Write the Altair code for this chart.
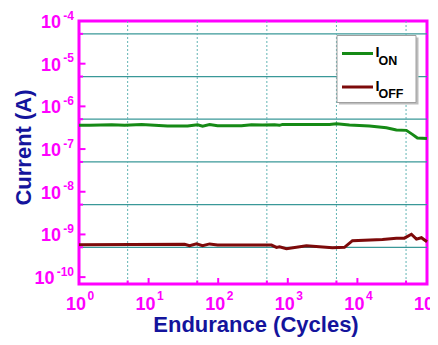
import altair as alt
import pandas as pd

# ---------------- data ----------------
cycles_on = [1, 1.42, 2.95, 4.53, 7.94, 12.2, 18.7, 36.3, 50.6, 59.7, 75.2, 98, 216, 301,
             433, 644, 760, 839, 3970, 5000, 7690, 14900, 26100, 36300, 50600, 61700, 72800, 100000]
i_on = [3.6e-7, 3.6e-7, 3.72e-7, 3.6e-7, 3.75e-7, 3.6e-7, 3.45e-7, 3.45e-7, 3.72e-7, 3.45e-7,
        3.75e-7, 3.5e-7, 3.5e-7, 3.72e-7, 3.64e-7, 3.72e-7, 3.6e-7, 3.78e-7, 3.78e-7, 3.9e-7,
        3.64e-7, 3.45e-7, 3.17e-7, 2.79e-7, 2.74e-7, 2.21e-7, 1.82e-7, 1.76e-7]

cycles_off = [1, 32.9, 38.8, 48.9, 59.6, 75.2, 98, 282, 583, 688, 760, 958, 1850, 4380, 6520,
              8490, 22900, 36300, 47300, 59700, 70500, 83200, 100000]
i_off = [5.75e-10, 5.85e-10, 5.45e-10, 6.00e-10, 5.45e-10, 6.00e-10, 5.69e-10, 5.69e-10, 5.62e-10,
         4.98e-10, 5.16e-10, 4.65e-10, 5.45e-10, 4.90e-10, 4.98e-10, 7.13e-10, 7.64e-10, 8.19e-10,
         8.19e-10, 1.01e-9, 7.76e-10, 8.36e-10, 6.75e-10]

series_keys = ["ON", "OFF"]
series_colors = ["#168a16", "#7d0a0a"]

x_major_exp = [0, 1, 2, 3, 4, 5]
x_minor = [5, 50, 500, 5000, 50000]
y_major_exp = [-4, -5, -6, -7, -8, -9, -10]
y_minor = [5e-5, 5e-6, 5e-7, 5e-8, 5e-9, 5e-10]

x_title = "Endurance (Cycles)"
y_title = "Current (A)"

# ---------------- styling ----------------
W, H = 348, 263
MAG = "#FF00FF"
TITLE_C = "#14149C"
FONT = "Liberation Sans"

xs = alt.Scale(type="log", domain=[1, 1e5], nice=False)
ys = alt.Scale(type="log", domain=[6.9e-11, 1e-4], nice=False)

df = pd.concat([
    pd.DataFrame({"cycles": cycles_on, "current": i_on, "series": "ON"}),
    pd.DataFrame({"cycles": cycles_off, "current": i_off, "series": "OFF"}),
])
color = alt.Color("series:N", scale=alt.Scale(domain=series_keys, range=series_colors), legend=None)

xmaj = pd.DataFrame({"exp": [str(e) for e in x_major_exp], "val": [10.0 ** e for e in x_major_exp]})
ymaj = pd.DataFrame({"exp": [str(e) for e in y_major_exp], "val": [10.0 ** e for e in y_major_exp]})
xmin = pd.DataFrame({"val": x_minor})
ymin = pd.DataFrame({"val": y_minor})

# gridlines
hgrid = alt.Chart(ymin).mark_rule(color="#3a9898", strokeWidth=1.3).encode(
    y=alt.Y("val:Q", scale=ys, axis=None), x=alt.value(0), x2=alt.value(W))
vgrid = alt.Chart(xmin).mark_rule(color="#62b4b4", strokeWidth=1, strokeDash=[2, 2]).encode(
    x=alt.X("val:Q", scale=xs, axis=None), y=alt.value(0), y2=alt.value(H))

# main lines
lines = alt.Chart(df).mark_line(strokeWidth=3).encode(
    x=alt.X("cycles:Q", scale=xs, axis=None),
    y=alt.Y("current:Q", scale=ys, axis=None),
    color=color,
)

# axis titles
tdf = pd.DataFrame({"xt": [x_title], "yt": [y_title]})
ttl = dict(font=FONT, fontSize=22, fontWeight="bold", color=TITLE_C, baseline="alphabetic", align="center")
xtitle = alt.Chart(tdf).mark_text(**ttl).encode(
    x=alt.value(177), y=alt.value(H + 48), text="xt:N")
ytitle = alt.Chart(tdf).mark_text(angle=270, **ttl).encode(
    x=alt.value(-48), y=alt.value(H / 2 - 5), text="yt:N")

# inward ticks
ytick_maj = alt.Chart(ymaj).mark_rule(color=MAG, strokeWidth=2).encode(
    y=alt.Y("val:Q", scale=ys, axis=None), x=alt.value(0), x2=alt.value(6.5))
ytick_min = alt.Chart(ymin).mark_rule(color=MAG, strokeWidth=2).encode(
    y=alt.Y("val:Q", scale=ys, axis=None), x=alt.value(0), x2=alt.value(4))
xtick_maj = alt.Chart(xmaj).mark_rule(color=MAG, strokeWidth=2).encode(
    x=alt.X("val:Q", scale=xs, axis=None), y=alt.value(H), y2=alt.value(H - 6))
xtick_min = alt.Chart(xmin).mark_rule(color=MAG, strokeWidth=2).encode(
    x=alt.X("val:Q", scale=xs, axis=None), y=alt.value(H), y2=alt.value(H - 3.5))

# tick labels 10^n
lab = dict(font=FONT, fontWeight="bold", color=MAG, baseline="alphabetic")
ylab_base = alt.Chart(ymaj).transform_calculate(px="-5 - 6.5*length(datum.exp)").mark_text(
    align="right", fontSize=18, dy=7, **lab).encode(
    x=alt.X("px:Q", scale=None, axis=None), y=alt.Y("val:Q", scale=ys, axis=None), text=alt.value("10"))
ylab_exp = alt.Chart(ymaj).mark_text(align="right", fontSize=12, dy=-1.5, **lab).encode(
    x=alt.value(-5), y=alt.Y("val:Q", scale=ys, axis=None), text="exp:N")
xlab_base = alt.Chart(xmaj).mark_text(align="right", fontSize=18, dx=7, **lab).encode(
    x=alt.X("val:Q", scale=xs, axis=None), y=alt.value(H + 25.5), text=alt.value("10"))
xlab_exp = alt.Chart(xmaj).mark_text(align="left", fontSize=12, dx=8.5, **lab).encode(
    x=alt.X("val:Q", scale=xs, axis=None), y=alt.value(H + 16), text="exp:N")

# legend (manual, to get subscripts)
leg = pd.DataFrame({"series": series_keys, "idx": [0, 1]})
box = pd.DataFrame({"k": [0]})
shadow = alt.Chart(box).mark_rect(fill="#bdbdbd").encode(
    x=alt.value(260), x2=alt.value(339.5), y=alt.value(16.5), y2=alt.value(83.5))
frame = alt.Chart(box).mark_rect(fill="white", stroke="#a0a0a0", strokeWidth=1).encode(
    x=alt.value(258), x2=alt.value(337), y=alt.value(14.5), y2=alt.value(81.5))
leg_lines = alt.Chart(leg).transform_calculate(ly="32.5 + 33.5*datum.idx").mark_rule(strokeWidth=3).encode(
    x=alt.value(263), x2=alt.value(294), y=alt.Y("ly:Q", scale=None, axis=None), color=color)
leg_I = alt.Chart(leg).transform_calculate(ty="36 + 33.5*datum.idx").mark_text(
    align="left", baseline="alphabetic", font=FONT, fontWeight="bold", fontSize=14.5, color="black").encode(
    x=alt.value(296.5), y=alt.Y("ty:Q", scale=None, axis=None), text=alt.value("I"))
leg_sub = alt.Chart(leg).transform_calculate(sy="44.3 + 32.5*datum.idx").mark_text(
    align="left", baseline="alphabetic", font=FONT, fontWeight="bold", fontSize=12.5, color="black").encode(
    x=alt.value(299.5), y=alt.Y("sy:Q", scale=None, axis=None), text="series:N")

chart = alt.layer(
    hgrid, vgrid, lines, shadow, frame, leg_lines, leg_I, leg_sub,
    ytick_maj, ytick_min, xtick_maj, xtick_min,
    ylab_base, ylab_exp, xlab_base, xlab_exp, xtitle, ytitle,
).properties(
    width=W, height=H, autosize=alt.AutoSizeParams(type="none"),
    padding={"left": 71, "top": 13, "right": 3, "bottom": 53},
    background="white",
).configure_view(stroke=MAG, strokeWidth=3)

chart.save("out.html", embed_options={"renderer": "svg", "actions": False})
